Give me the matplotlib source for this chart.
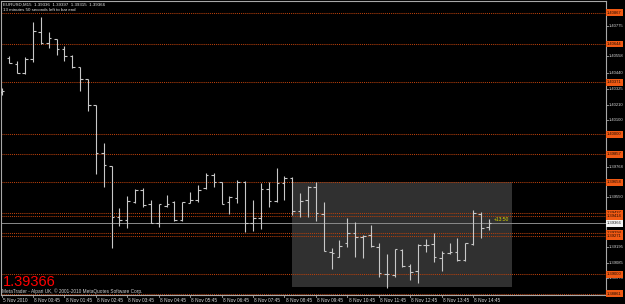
import matplotlib
matplotlib.use("Agg")
import matplotlib.pyplot as plt
import matplotlib.transforms as mtransforms
from matplotlib.collections import LineCollection
from matplotlib.patches import Rectangle

plt.rcParams['font.family'] = ['Liberation Sans', 'DejaVu Sans']

# ---------------- data ----------------
header_line1 = "EURUSD,M15  1.39336  1.39397  1.39315  1.39366"
header_line2 = "13 minutes 50 seconds left to bar end"
copyright_text = "MetaTrader - Alpari UK, \u00a9 2001-2010 MetaQuotes Software Corp."
big_price_text = "1.39366"
countdown_text = "+13:50"

opens = [1.40302, 1.40546, 1.40504, 1.40435, 1.40535, 1.40730, 1.40649, 1.40680, 1.40608, 1.40559,
         1.40478, 1.40394, 1.40207, 1.39864, 1.39774, 1.39412, 1.39389, 1.39519, 1.39603, 1.39501,
         1.39370, 1.39489, 1.39519, 1.39389, 1.39512, 1.39531, 1.39619, 1.39710, 1.39658, 1.39515,
         1.39548, 1.39662, 1.39365, 1.39405, 1.39610, 1.39524, 1.39651, 1.39686, 1.39455, 1.39531,
         1.39622, 1.39429, 1.39163, 1.39127, 1.39223, 1.39294, 1.39270, 1.39282, 1.39198, 1.39002,
         1.38996, 1.39175, 1.39061, 1.39025, 1.39210, 1.39215, 1.39120, 1.39156, 1.39163, 1.39103,
         1.39215, 1.39432, 1.39336]
highs = [1.40330, 1.40559, 1.40523, 1.40554, 1.40801, 1.40837, 1.40728, 1.40680, 1.40632, 1.40564,
         1.40480, 1.40396, 1.40209, 1.39936, 1.39776, 1.39472, 1.39560, 1.39608, 1.39615, 1.39531,
         1.39503, 1.39567, 1.39524, 1.39519, 1.39591, 1.39638, 1.39722, 1.39722, 1.39662, 1.39562,
         1.39674, 1.39667, 1.39531, 1.39651, 1.39662, 1.39758, 1.39705, 1.39695, 1.39584, 1.39633,
         1.39658, 1.39515, 1.39187, 1.39246, 1.39405, 1.39372, 1.39282, 1.39353, 1.39227, 1.39146,
         1.39182, 1.39180, 1.39073, 1.39218, 1.39251, 1.39294, 1.39168, 1.39223, 1.39263, 1.39227,
         1.39460, 1.39448, 1.39397]
lows = [1.40280, 1.40507, 1.40435, 1.40430, 1.40518, 1.40644, 1.40613, 1.40568, 1.40521, 1.40475,
        1.40307, 1.40168, 1.39715, 1.39622, 1.39187, 1.39348, 1.39334, 1.39508, 1.39484, 1.39365,
        1.39341, 1.39481, 1.39382, 1.39384, 1.39508, 1.39515, 1.39608, 1.39626, 1.39503, 1.39432,
        1.39508, 1.39305, 1.39310, 1.39325, 1.39484, 1.39519, 1.39531, 1.39424, 1.39412, 1.39412,
        1.39384, 1.39170, 1.39041, 1.39127, 1.39198, 1.39123, 1.39120, 1.39194, 1.38980, 1.38902,
        1.38980, 1.39056, 1.38961, 1.38937, 1.39163, 1.39091, 1.39027, 1.39146, 1.39098, 1.39098,
        1.39208, 1.39258, 1.39315]
closes = [1.40309, 1.40507, 1.40435, 1.40535, 1.40735, 1.40649, 1.40685, 1.40606, 1.40561, 1.40482,
          1.40394, 1.40211, 1.39864, 1.39781, 1.39412, 1.39389, 1.39524, 1.39603, 1.39496, 1.39365,
          1.39501, 1.39503, 1.39389, 1.39515, 1.39531, 1.39603, 1.39710, 1.39662, 1.39503, 1.39555,
          1.39662, 1.39365, 1.39401, 1.39610, 1.39524, 1.39651, 1.39686, 1.39455, 1.39524, 1.39626,
          1.39437, 1.39170, 1.39151, 1.39205, 1.39298, 1.39270, 1.39275, 1.39203, 1.39009, 1.39004,
          1.39182, 1.39061, 1.39020, 1.39210, 1.39210, 1.39123, 1.39151, 1.39158, 1.39103, 1.39223,
          1.39437, 1.39330, 1.39366]

time_labels = ["5 Nov 2010", "8 Nov 00:45", "8 Nov 01:45", "8 Nov 02:45", "8 Nov 03:45",
               "8 Nov 04:45", "8 Nov 05:45", "8 Nov 06:45", "8 Nov 07:45", "8 Nov 08:45",
               "8 Nov 09:45", "8 Nov 10:45", "8 Nov 11:45", "8 Nov 12:45", "8 Nov 13:45",
               "8 Nov 14:45"]
time_label_bars = [0, 4, 8, 12, 16, 20, 24, 28, 32, 36, 40, 44, 48, 52, 56, 60]

# visible right-axis tick labels (others are hidden behind level labels)
price_ticks = [1.40775, 1.40558, 1.40440, 1.40325, 1.40210, 1.40100,
               1.39768, 1.39550, 1.39195, 1.39085, 1.38973]

level_prices = [1.40867, 1.40644, 1.40371, 1.40000, 1.39857, 1.39658,
                1.39437, 1.39414, 1.39294, 1.39271, 1.39000, 1.38861]

bid_price = 1.39366
box_bars = [36.9, 64.9]
box_prices = [1.38909, 1.39658]

# ---------------- figure ----------------
W, H = 625, 304
fig = plt.figure(figsize=(W / 100, H / 100), dpi=100, facecolor='black')
left_px, right_px, top_px, bot_px = 0.8, 606.0, 0.8, 294.5
ax = fig.add_axes([left_px / W, (H - bot_px) / H, (right_px - left_px) / W, (bot_px - top_px) / H])
ax.set_facecolor('black')
ax_w = right_px - left_px
ax_h = bot_px - top_px

bar_px = 7.86
first_bar_px = 1.5
ax.set_xlim((left_px - first_bar_px) / bar_px, (right_px - first_bar_px) / bar_px)
ax.set_ylim(1.38857, 1.40952)
ax.set_xticks([])
ax.set_yticks([])
for s in ax.spines.values():
    s.set_color('#a8a8a8')
    s.set_linewidth(0.8)

# rectangle object
ax.add_patch(Rectangle((box_bars[0], box_prices[0]), box_bars[1] - box_bars[0],
                       box_prices[1] - box_prices[0], facecolor='#303030',
                       edgecolor='none', zorder=0.5))

# dotted levels
for p in level_prices:
    ax.axhline(p, color='#b8400c', lw=0.75, ls=(0, (1.0, 1.0)), zorder=1)

# bid line
ax.axhline(bid_price, color='#8a8a8a', lw=0.7, zorder=1.2)

# OHLC bars
tw = 0.33
segs = []
for k in range(len(opens)):
    segs.append([(k, lows[k]), (k, highs[k])])
    segs.append([(k - tw, opens[k]), (k, opens[k])])
    segs.append([(k, closes[k]), (k + tw, closes[k])])
ax.add_collection(LineCollection(segs, colors='#c8c8c8', linewidths=0.8, zorder=3))

# right price axis
trans_y = mtransforms.blended_transform_factory(ax.transAxes, ax.transData)
for p in price_ticks:
    ax.plot([1.0, 1.0 + 2.0 / ax_w], [p, p], transform=trans_y, color='#a8a8a8',
            lw=0.6, clip_on=False, zorder=4)
    ax.text(1.0 + 2.8 / ax_w, p, f"{p:.5f}", transform=trans_y, ha='left', va='center',
            fontsize=3.0, color='#d8d8d8', clip_on=False, zorder=4)

for p in level_prices:
    ax.text(1.0 + 1.0 / ax_w, p, f"{p:.5f}", transform=trans_y, ha='left', va='center',
            fontsize=3.0, color='#1a0800', clip_on=False, zorder=6,
            bbox=dict(boxstyle='square,pad=0.35', fc='#f05a14', ec='none'))

ax.text(1.0 + 1.0 / ax_w, bid_price, f"{bid_price:.5f}", transform=trans_y, ha='left',
        va='center', fontsize=3.0, color='#202020', clip_on=False, zorder=7,
        bbox=dict(boxstyle='square,pad=0.35', fc='#f4f4f4', ec='none'))

# bottom time axis
trans_x = mtransforms.blended_transform_factory(ax.transData, ax.transAxes)
for k, lab in zip(time_label_bars, time_labels):
    ax.plot([k, k], [0, -2.0 / ax_h], transform=trans_x, color='#a8a8a8', lw=0.6,
            clip_on=False, zorder=4)
    ax.text(k + 0.15, -(300.3 - bot_px) / ax_h, lab, transform=trans_x, ha='left',
            va='center', fontsize=3.4, color='#d8d8d8', clip_on=False, zorder=4)

# header texts
ax.text((3.0 - left_px) / ax_w, 1 - (4.2 - top_px) / ax_h, header_line1,
        transform=ax.transAxes, ha='left', va='center', fontsize=3.2, color='#e8e8e8', zorder=5)
ax.text((3.0 - left_px) / ax_w, 1 - (10.3 - top_px) / ax_h, header_line2,
        transform=ax.transAxes, ha='left', va='center', fontsize=3.2, color='#e8e8e8', zorder=5)

# big red price and copyright
ax.text((3.0 - left_px) / ax_w, (bot_px - 286.3) / ax_h, big_price_text,
        transform=ax.transAxes, ha='left', va='baseline', fontsize=10.5, color='#ff0000', zorder=5)
ax.text((2.5 - left_px) / ax_w, (bot_px - 292.6) / ax_h, copyright_text,
        transform=ax.transAxes, ha='left', va='baseline', fontsize=3.4, color='#d0d0d0', zorder=5)

# countdown label next to last bar
ax.annotate(countdown_text, xy=(len(opens) - 1, closes[-1]), xytext=(4.5, 4),
            textcoords='offset pixels', ha='left', va='center', fontsize=3.6,
            color='#d8d400', zorder=6)

fig.savefig('out.png', dpi=100, facecolor='black')
